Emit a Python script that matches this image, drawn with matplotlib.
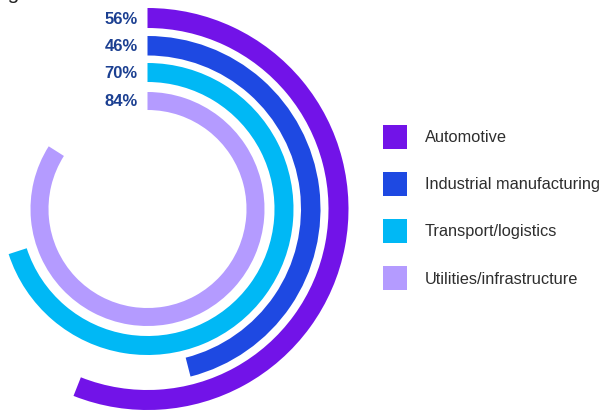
import matplotlib
matplotlib.use("Agg")
import matplotlib.pyplot as plt
from matplotlib.patches import Wedge, Rectangle

# data
categories = ["Automotive", "Industrial manufacturing", "Transport/logistics", "Utilities/infrastructure"]
values = [56, 46, 70, 84]
colors = ["#7213E8", "#1E49E2", "#00B8F5", "#B49BFF"]
label_color = "#1B3F91"

W, H = 606, 414
fig = plt.figure(figsize=(W / 100, H / 100), dpi=100)
ax = fig.add_axes([0, 0, 1, 1])
ax.set_xlim(0, W)
ax.set_ylim(0, H)
ax.set_aspect("equal")
ax.axis("off")

# ring geometry (pixels, y measured up from the bottom)
cx, cy = 147.5, H - 210
outer_r = [201, 173, 146, 117]
widths = [20, 19.5, 19, 18]

for v, c, r, w in zip(values, colors, outer_r, widths):
    ax.add_patch(Wedge((cx, cy), r, 90 - 360 * v / 100, 90, width=w,
                       facecolor=c, edgecolor="none"))
    ax.text(cx - 10, cy + r - w / 2, f"{v}%", ha="right", va="center",
            fontsize=12, fontweight="bold", color=label_color,
            family="Liberation Sans")

# legend
leg_y = [138, 185, 232, 279]
for cat, c, y in zip(categories, colors, leg_y):
    ax.add_patch(Rectangle((383, H - y - 12), 24, 24, facecolor=c, edgecolor="none"))
    ax.text(425, H - y, cat, ha="left", va="center", fontsize=11.8,
            color="#2E2E2E", family="Liberation Sans")

# clipped title fragment at the top edge
ax.text(4, H + 1, "ige", ha="left", va="baseline", fontsize=15,
        color="#222222", family="Liberation Sans", clip_on=False)

fig.savefig("out.png", dpi=100)
